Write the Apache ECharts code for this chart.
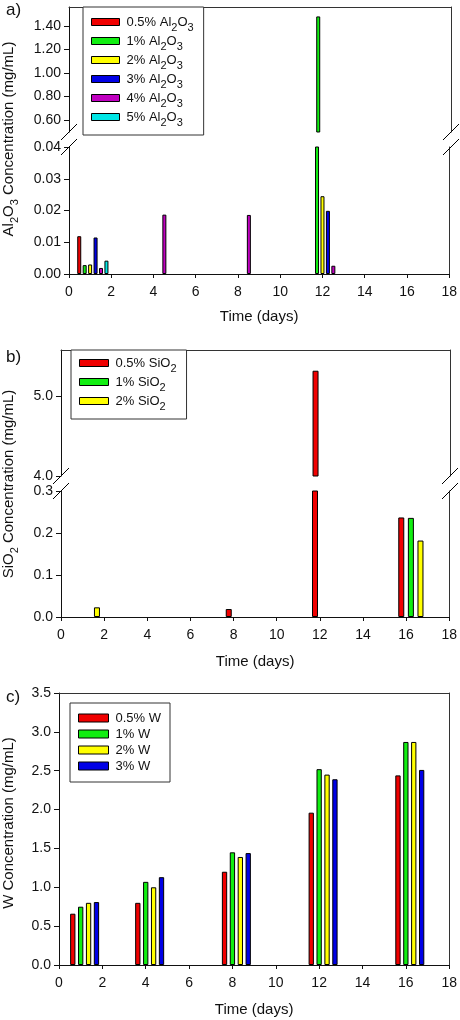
<!DOCTYPE html>
<html><head><meta charset="utf-8">
<script src="https://cdn.jsdelivr.net/npm/echarts@6/dist/echarts.min.js"></script>
<style>html,body{margin:0;padding:0;background:#fff}#c{width:460px;height:1020px}</style>
</head><body><div id="c"></div>
<script>
// ---------------- data ----------------
// panel a (Al2O3)
const daysA = [1, 4, 8, 12];
const namesA = ['0.5% Al2O3', '1% Al2O3', '2% Al2O3', '3% Al2O3', '4% Al2O3', '5% Al2O3'];
const al05 = [0.0119, null, null, null];
const al1  = [0.0028, null, null, 1.48];
const al2  = [0.0030, null, null, 0.0245];
const al3  = [0.0115, null, null, 0.0199];
const al4  = [0.0019, 0.0187, 0.0186, 0.0026];
const al5  = [0.0042, null, null, null];
// panel b (SiO2)
const daysB = [1, 8, 12, 16];
const namesB = ['0.5% SiO2', '1% SiO2', '2% SiO2'];
const si05 = [null, 0.019, 5.32, 0.237];
const si1  = [null, null, null, 0.236];
const si2  = [0.023, null, null, 0.182];
// panel c (W)
const daysC = [1, 4, 8, 12, 16];
const namesC = ['0.5% W', '1% W', '2% W', '3% W'];
const w05 = [0.66, 0.80, 1.20, 1.96, 2.44];
const w1  = [0.75, 1.07, 1.45, 2.52, 2.87];
const w2  = [0.80, 1.00, 1.39, 2.45, 2.87];
const w3  = [0.81, 1.13, 1.44, 2.39, 2.51];
// tick labels
const xTicks = [0, 2, 4, 6, 8, 10, 12, 14, 16, 18];
const yTicksAUpper = [0.6, 0.8, 1.0, 1.2, 1.4];
const yTicksALower = [0, 0.01, 0.02, 0.03, 0.04];
const yTicksBUpper = [4.0, 5.0];
const yTicksBLower = [0, 0.1, 0.2, 0.3];
const yTicksC = [0, 0.5, 1.0, 1.5, 2.0, 2.5, 3.0, 3.5];
// axis ranges
const rangeAUpper = [0.5, 1.56];
const rangeALower = [0, 0.04];
const rangeBUpper = [4.0, 5.58];
const rangeBLower = [0, 0.3];
const rangeC = [0, 3.5];
const rangeX = [0, 18];

// ---------------- styles ----------------
const FONT = '"Liberation Sans", Arial, sans-serif';
const AX = '#111';
const FRAME = '#333';
const colorsA = ['#f00000', '#11ee11', '#ffff00', '#0000e6', '#c000c0', '#00e6e6'];
const colorsB = ['#f00000', '#11ee11', '#ffff00'];
const colorsC = ['#f00000', '#11ee11', '#ffff00', '#0000e6'];

const valuesA = [al05, al1, al2, al3, al4, al5];
const valuesB = [si05, si1, si2];
const valuesC = [w05, w1, w2, w3];

const subRich = { sub: { fontSize: 11, lineHeight: 7, verticalAlign: 'top', padding: [7, 0, 0, 0], fontFamily: FONT, color: '#111' } };
function subFmt(name) { return name.replace(/([A-Za-z])(\d)/g, '$1{sub|$2}'); }

const grids = [
  { left: 69, top: 7, width: 382, height: 125 },   // a upper
  { left: 69, top: 147, width: 382, height: 127 }, // a lower
  { left: 61, top: 350, width: 389, height: 126 }, // b upper
  { left: 61, top: 491, width: 389, height: 126 }, // b lower
  { left: 59, top: 693, width: 392, height: 272 }  // c
];

function topX(gi) {
  return { type: 'value', gridIndex: gi, position: 'top', min: rangeX[0], max: rangeX[1],
    axisLine: { show: true, onZero: false, lineStyle: { color: FRAME, width: 1 } },
    axisTick: { show: false }, axisLabel: { show: false }, splitLine: { show: false } };
}
function bottomX(gi, gap) {
  return { type: 'value', gridIndex: gi, position: 'bottom', min: rangeX[0], max: rangeX[1], interval: 2,
    axisLine: { show: true, onZero: false, lineStyle: { color: AX, width: 1 } },
    axisTick: { show: true, inside: false, length: 4, customValues: xTicks, lineStyle: { color: AX } },
    axisLabel: { show: true, margin: 11, fontSize: 14, fontFamily: FONT, color: '#111', customValues: xTicks,
      formatter: v => String(v) },
    splitLine: { show: false },
    name: 'Time (days)', nameLocation: 'middle', nameGap: gap,
    nameTextStyle: { fontSize: 15, fontFamily: FONT, color: '#111' } };
}
function leftY(gi, range, ticks, dec) {
  return { type: 'value', gridIndex: gi, position: 'left', min: range[0], max: range[1],
    axisLine: { show: true, onZero: false, lineStyle: { color: AX, width: 1 } },
    axisTick: { show: true, inside: false, length: 5, customValues: ticks, lineStyle: { color: AX } },
    axisLabel: { show: true, margin: 8, fontSize: 14, fontFamily: FONT, color: '#111', customValues: ticks,
      formatter: v => Number(v).toFixed(dec) },
    splitLine: { show: false } };
}
function rightY(gi) {
  return { type: 'value', gridIndex: gi, position: 'right', min: 0, max: 1,
    axisLine: { show: true, onZero: false, lineStyle: { color: FRAME, width: 1 } },
    axisTick: { show: false }, axisLabel: { show: false }, splitLine: { show: false } };
}

function bar(name, days, vals, color, xi, yi, w, gap) {
  return { type: 'bar', name: name, xAxisIndex: xi, yAxisIndex: yi,
    data: days.map((d, i) => [d, vals[i]]), barWidth: w, barGap: gap, clip: true,
    itemStyle: { color: color, borderColor: '#000', borderWidth: 1 },
    emphasis: { disabled: true }, animation: false };
}
function pad(id, days, xi, yi, w, gap) {
  return { type: 'bar', name: id, xAxisIndex: xi, yAxisIndex: yi,
    data: days.map(d => [d, null]), barWidth: w, barGap: gap, clip: true,
    itemStyle: { color: 'rgba(0,0,0,0)', borderWidth: 0 }, silent: true, animation: false };
}

const series = [];
// panel a: upper (x0,y0) and lower (x1,y1)
[[0, 0], [1, 1]].forEach(([xi, yi], k) => {
  series.push(pad('_padA' + k, daysA, xi, yi, 4, '36%'));
  namesA.forEach((n, i) => series.push(bar(n, daysA, valuesA[i], colorsA[i], xi, yi, 4, '36%')));
});
// panel b
[[2, 2], [3, 3]].forEach(([xi, yi], k) => {
  series.push(pad('_padB' + k, daysB, xi, yi, 6, '60%'));
  namesB.forEach((n, i) => series.push(bar(n, daysB, valuesB[i], colorsB[i], xi, yi, 6, '60%')));
});
// panel c
series.push(pad('_padC', daysC, 4, 4, 5.3, '49%'));
namesC.forEach((n, i) => series.push(bar(n, daysC, valuesC[i], colorsC[i], 4, 4, 5.3, '49%')));

function legend(names, left, top, gap, pd, iw, ih) {
  return { data: names, orient: 'vertical', left: left, top: top, icon: 'rect',
    itemWidth: iw, itemHeight: ih, itemGap: gap, padding: pd, selectedMode: false,
    borderColor: FRAME, borderWidth: 1, backgroundColor: '#fff',
    itemStyle: { borderColor: '#000', borderWidth: 1 },
    textStyle: { fontSize: 13, fontFamily: FONT, color: '#111', lineHeight: 14, padding: [0, 0, 0, 2], rich: subRich },
    formatter: subFmt };
}

function breakMarks(x, y1, y2) {
  return [y1, y2].map(y => ({ type: 'line', z: 10,
    shape: { x1: x - 8, y1: y + 8, x2: x + 8, y2: y - 8 },
    style: { stroke: '#000', lineWidth: 1 } }));
}
function yTitle(x, y, text) {
  return { type: 'text', x: x, y: y, rotation: Math.PI / 2, z: 10,
    style: { text: text, fontSize: 15, fontFamily: FONT, fill: '#111', align: 'center', verticalAlign: 'middle', lineHeight: 16,
      rich: { sub: { fontSize: 11, lineHeight: 8, verticalAlign: 'top', padding: [8, 0, 0, 0], fontFamily: FONT, fill: '#111' } } } };
}
function panelLabel(x, y, t) {
  return { type: 'text', x: x, y: y, z: 10,
    style: { text: t, fontSize: 17, fontFamily: FONT, fill: '#111', align: 'left', verticalAlign: 'top' } };
}

const option = {
  backgroundColor: '#fff',
  animation: false,
  grid: grids,
  xAxis: [topX(0), bottomX(1, 35), topX(2), bottomX(3, 37), bottomX(4, 37), topX(4)],
  yAxis: [
    leftY(0, rangeAUpper, yTicksAUpper, 2),
    leftY(1, rangeALower, yTicksALower, 2),
    leftY(2, rangeBUpper, yTicksBUpper, 1),
    leftY(3, rangeBLower, yTicksBLower, 1),
    leftY(4, rangeC, yTicksC, 1),
    rightY(0), rightY(1), rightY(2), rightY(3), rightY(4)
  ],
  legend: [
    legend(namesA, 83, 7, 1, [8, 10, 7, 8], 28, 7),
    legend(namesB, 71, 350, 1, [6, 10, 7, 8], 29, 7),
    legend(namesC, 70, 703, 2, [8, 9, 9, 8], 30, 8)
  ],
  graphic: [].concat(
    breakMarks(69, 132, 147), breakMarks(451, 132, 147),
    breakMarks(61, 476, 491), breakMarks(450, 476, 491),
    [yTitle(9, 139, 'Al{sub|2}O{sub|3} Concentration (mg/mL)'),
     yTitle(9, 484, 'SiO{sub|2} Concentration (mg/mL)'),
     yTitle(9, 823, 'W Concentration (mg/mL)'),
     panelLabel(6, 2, 'a)'), panelLabel(6, 349, 'b)'), panelLabel(6, 689, 'c)')]
  ),
  series: series
};

const chart = echarts.init(document.getElementById('c'), null, { renderer: 'canvas' });
chart.setOption(option);
</script>
</body></html>
